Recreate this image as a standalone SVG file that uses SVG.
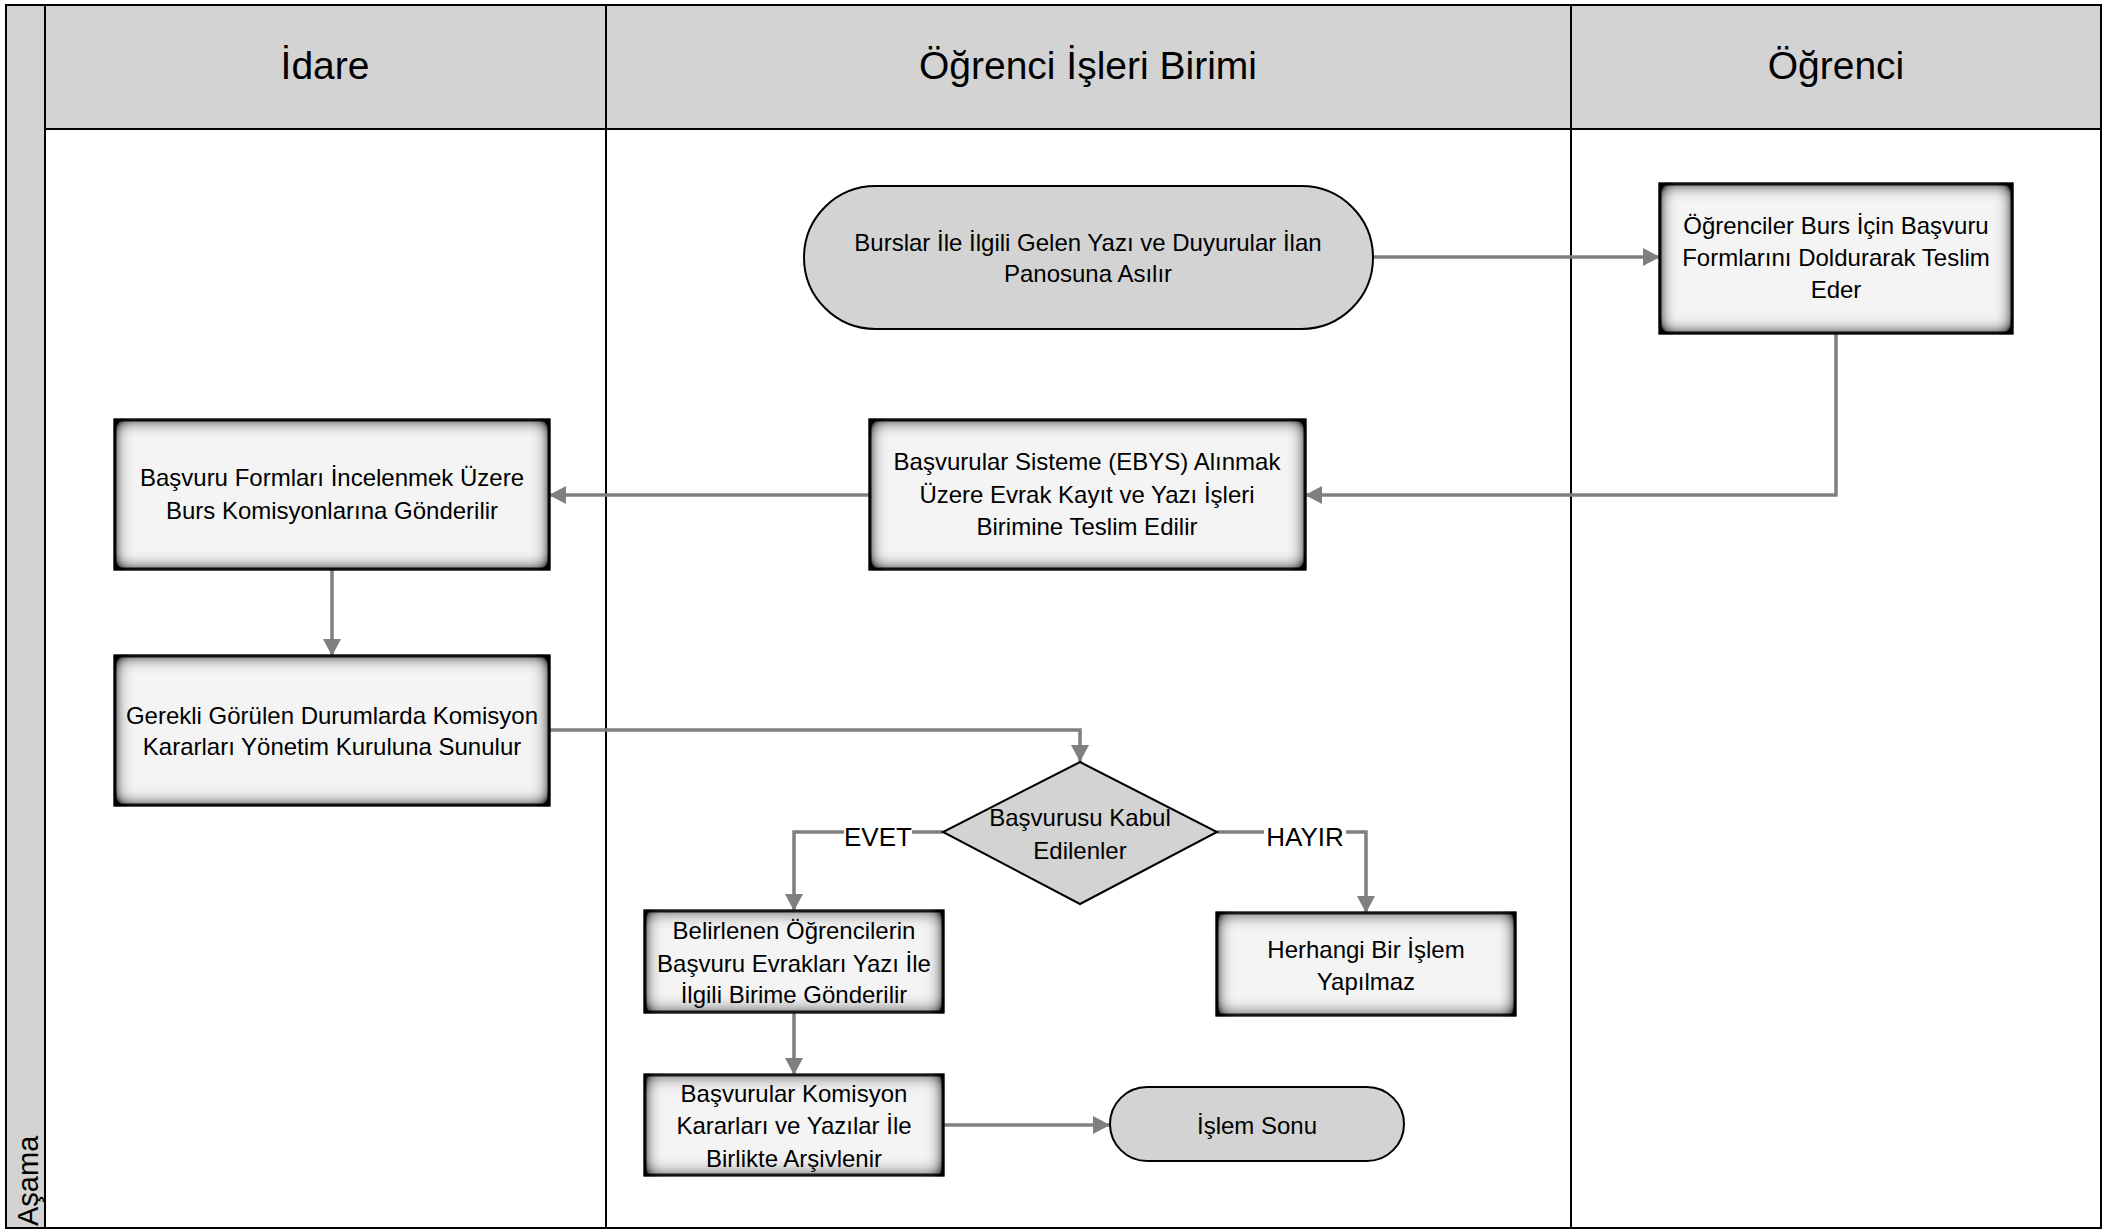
<svg xmlns="http://www.w3.org/2000/svg" width="2125" height="1230" viewBox="0 0 2125 1230">
<style>
.hdr{font-family:"Liberation Sans",Arial,sans-serif;font-size:39px;fill:#000;text-anchor:middle}
.t{font-family:"Liberation Sans",Arial,sans-serif;font-size:24px;fill:#000;text-anchor:middle}
.lbl{font-family:"Liberation Sans",Arial,sans-serif;font-size:26px;fill:#000;text-anchor:middle}
.box{fill:#f4f4f4;stroke:#2e2e2e;stroke-width:3}
.term{fill:#d3d3d3;stroke:#000;stroke-width:2}
.conn{fill:none;stroke:#7f7f7f;stroke-width:3.5}
.lane{fill:none;stroke:#000;stroke-width:2}
</style>
<defs>
<filter id="inner" x="-10%" y="-10%" width="120%" height="120%">
<feFlood flood-color="#000" flood-opacity="1" result="c"/>
<feComposite in="c" in2="SourceAlpha" operator="out" result="inv"/>
<feGaussianBlur in="inv" stdDeviation="9" result="b"/>
<feComponentTransfer in="b" result="b2"><feFuncA type="linear" slope="2"/></feComponentTransfer>
<feComposite in="b2" in2="SourceAlpha" operator="in" result="sh"/>
<feMerge><feMergeNode in="SourceGraphic"/><feMergeNode in="sh"/></feMerge>
</filter>
<marker id="arr" markerUnits="userSpaceOnUse" markerWidth="18" markerHeight="18" refX="17" refY="9" orient="auto">
<path d="M0,0 L17,9 L0,18 z" fill="#7f7f7f"/>
</marker>
</defs>
<rect x="0" y="0" width="2125" height="1230" fill="#fff"/>
<g id="lanes">
<rect x="6" y="5" width="39" height="1223" fill="#d3d3d3"/>
<rect x="45" y="5" width="2056" height="124" fill="#d3d3d3"/>
<rect x="6" y="5" width="2095" height="1223" class="lane"/>
<line x1="45" y1="5" x2="45" y2="1228" class="lane"/>
<line x1="606" y1="5" x2="606" y2="1228" class="lane"/>
<line x1="1571" y1="5" x2="1571" y2="1228" class="lane"/>
<line x1="45" y1="129" x2="2101" y2="129" class="lane"/>
<text class="hdr" x="325" y="79">İdare</text>
<text class="hdr" x="1088" y="79">Öğrenci İşleri Birimi</text>
<text class="hdr" x="1836" y="79">Öğrenci</text>
<text transform="translate(38,1226) rotate(-90)" font-family="Liberation Sans, Arial, sans-serif" font-size="29">Aşama</text>
</g>
<g id="connectors">
<path class="conn" d="M1373,257 H1660" marker-end="url(#arr)"/>
<path class="conn" d="M1836,333 V495 H1305" marker-end="url(#arr)"/>
<path class="conn" d="M870,495 H549" marker-end="url(#arr)"/>
<path class="conn" d="M332,569 V656" marker-end="url(#arr)"/>
<path class="conn" d="M549,730 H1080 V762" marker-end="url(#arr)"/>
<path class="conn" d="M943,832 H794 V911" marker-end="url(#arr)"/>
<path class="conn" d="M1217,832 H1366 V913" marker-end="url(#arr)"/>
<path class="conn" d="M794,1012 V1075" marker-end="url(#arr)"/>
<path class="conn" d="M943,1125 H1110" marker-end="url(#arr)"/>
<rect x="844" y="820" width="68" height="26" fill="#fff"/>
<text class="lbl" x="878" y="846">EVET</text>
<rect x="1264" y="820" width="82" height="26" fill="#fff"/>
<text class="lbl" x="1305" y="846">HAYIR</text>
</g>
<g id="n1">
<rect class="term" x="804" y="186" width="569" height="143" rx="71.5"/>
<text class="t" x="1088" y="251">Burslar İle İlgili Gelen Yazı ve Duyurular İlan</text>
<text class="t" x="1088" y="282">Panosuna Asılır</text>
</g>
<g id="n2">
<rect class="box" filter="url(#inner)" x="1660" y="184" width="352" height="149"/>
<text class="t" x="1836" y="234">Öğrenciler Burs İçin Başvuru</text>
<text class="t" x="1836" y="266">Formlarını Doldurarak Teslim</text>
<text class="t" x="1836" y="298">Eder</text>
</g>
<g id="n3">
<rect class="box" filter="url(#inner)" x="870" y="420" width="435" height="149"/>
<text class="t" x="1087" y="470">Başvurular Sisteme (EBYS) Alınmak</text>
<text class="t" x="1087" y="503">Üzere Evrak Kayıt ve Yazı İşleri</text>
<text class="t" x="1087" y="535">Birimine Teslim Edilir</text>
</g>
<g id="n4">
<rect class="box" filter="url(#inner)" x="115" y="420" width="434" height="149"/>
<text class="t" x="332" y="486">Başvuru Formları İncelenmek Üzere</text>
<text class="t" x="332" y="519">Burs Komisyonlarına Gönderilir</text>
</g>
<g id="n5">
<rect class="box" filter="url(#inner)" x="115" y="656" width="434" height="149"/>
<text class="t" x="332" y="724">Gerekli Görülen Durumlarda Komisyon</text>
<text class="t" x="332" y="755">Kararları Yönetim Kuruluna Sunulur</text>
</g>
<g id="n6">
<polygon points="1080,762 1217,832 1080,904 943,832" fill="#d3d3d3" stroke="#000" stroke-width="2"/>
<text class="t" x="1080" y="826">Başvurusu Kabul</text>
<text class="t" x="1080" y="859">Edilenler</text>
</g>
<g id="n7">
<rect class="box" filter="url(#inner)" x="645" y="911" width="298" height="101"/>
<text class="t" x="794" y="939">Belirlenen Öğrencilerin</text>
<text class="t" x="794" y="972">Başvuru Evrakları Yazı İle</text>
<text class="t" x="794" y="1003">İlgili Birime Gönderilir</text>
</g>
<g id="n8">
<rect class="box" filter="url(#inner)" x="1217" y="913" width="298" height="102"/>
<text class="t" x="1366" y="958">Herhangi Bir İşlem</text>
<text class="t" x="1366" y="990">Yapılmaz</text>
</g>
<g id="n9">
<rect class="box" filter="url(#inner)" x="645" y="1075" width="298" height="100"/>
<text class="t" x="794" y="1102">Başvurular Komisyon</text>
<text class="t" x="794" y="1134">Kararları ve Yazılar İle</text>
<text class="t" x="794" y="1167">Birlikte Arşivlenir</text>
</g>
<g id="n10">
<rect class="term" x="1110" y="1087" width="294" height="74" rx="37"/>
<text class="t" x="1257" y="1134">İşlem Sonu</text>
</g>
</svg>
